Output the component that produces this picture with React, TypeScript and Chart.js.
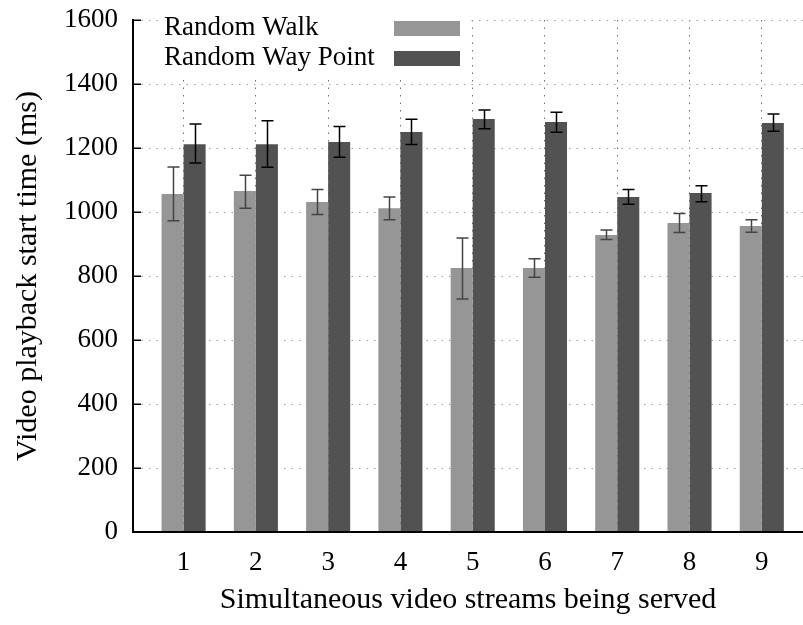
import { useEffect, useRef } from 'react';
import { Chart, registerables } from 'chart.js';

Chart.register(...registerables);

// ---- data ----
const streams = [1, 2, 3, 4, 5, 6, 7, 8, 9];
const walkMean = [1056, 1066, 1031, 1012, 825, 825, 928, 966, 956];
const walkLow = [973, 1012, 992, 976, 728, 796, 914, 936, 937];
const walkHigh = [1141, 1115, 1070, 1047, 919, 854, 944, 995, 976];
const wayMean = [1212, 1212, 1219, 1250, 1291, 1281, 1047, 1059, 1278];
const wayLow = [1153, 1140, 1171, 1211, 1260, 1249, 1024, 1032, 1252];
const wayHigh = [1275, 1285, 1267, 1290, 1319, 1312, 1070, 1082, 1306];
const yTickValues = [0, 200, 400, 600, 800, 1000, 1200, 1400, 1600];
const seriesNames = ['Random Walk', 'Random Way Point'];
const seriesColors = ['#969696', '#525252'];
const errorColors = ['#444444', '#000000'];

const FONT = '"Liberation Serif", "Times New Roman", serif';

export default function App() {
  const ref = useRef<HTMLCanvasElement>(null);

  useEffect(() => {
    if (!ref.current) return;

    const errorBars = {
      id: 'errorBars',
      afterDatasetsDraw(chart: any) {
        const ctx = chart.ctx;
        const y = chart.scales.y;
        const lows = [walkLow, wayLow];
        const highs = [walkHigh, wayHigh];
        chart.data.datasets.forEach((_: any, di: number) => {
          const meta = chart.getDatasetMeta(di);
          meta.data.forEach((el: any, i: number) => {
            const x = Math.round(el.x) + 0.5;
            const yl = y.getPixelForValue(lows[di][i]);
            const yh = y.getPixelForValue(highs[di][i]);
            ctx.save();
            ctx.strokeStyle = errorColors[di];
            ctx.lineWidth = 1.5;
            ctx.beginPath();
            ctx.moveTo(x, yl);
            ctx.lineTo(x, yh);
            ctx.moveTo(x - 6, yl);
            ctx.lineTo(x + 6, yl);
            ctx.moveTo(x - 6, yh);
            ctx.lineTo(x + 6, yh);
            ctx.stroke();
            ctx.restore();
          });
        });
        // axes redrawn on top of bars, with inward ticks on the value axis
        const ca = chart.chartArea;
        ctx.save();
        ctx.strokeStyle = '#000';
        ctx.lineWidth = 2;
        ctx.beginPath();
        ctx.moveTo(ca.left, ca.top);
        ctx.lineTo(ca.left, ca.bottom);
        ctx.lineTo(ca.right, ca.bottom);
        ctx.stroke();
        ctx.lineWidth = 1.5;
        ctx.beginPath();
        yTickValues.forEach((v) => {
          const py = Math.round(y.getPixelForValue(v)) + 0.25;
          ctx.moveTo(ca.left, py);
          ctx.lineTo(ca.left + 8, py);
        });
        ctx.stroke();
        ctx.restore();
      },
    };

    const keyBox = {
      id: 'keyBox',
      afterDraw(chart: any) {
        const ctx = chart.ctx;
        const ca = chart.chartArea;
        const left = ca.left + 27;
        const top = ca.top - 8;
        ctx.save();
        ctx.fillStyle = '#ffffff';
        ctx.fillRect(left, top, 308, 66);
        ctx.font = '27px ' + FONT;
        ctx.textBaseline = 'middle';
        ctx.textAlign = 'left';
        seriesNames.forEach((name, i) => {
          const cy = ca.top + 8 + i * 30;
          ctx.fillStyle = '#000';
          ctx.fillText(name, left + 4, cy);
          ctx.fillStyle = seriesColors[i];
          ctx.fillRect(left + 234, cy - 7, 66, 15);
        });
        ctx.restore();
      },
    };

    const chart = new Chart(ref.current, {
      type: 'bar',
      data: {
        datasets: [
          {
            label: seriesNames[0],
            data: streams.map((x, i) => ({ x, y: walkMean[i] })),
            backgroundColor: seriesColors[0],
            borderWidth: 0,
            categoryPercentage: 0.61,
            barPercentage: 1,
          },
          {
            label: seriesNames[1],
            data: streams.map((x, i) => ({ x, y: wayMean[i] })),
            backgroundColor: seriesColors[1],
            borderWidth: 0,
            categoryPercentage: 0.61,
            barPercentage: 1,
          },
        ],
      },
      options: {
        responsive: false,
        devicePixelRatio: 1,
        animation: false,
        layout: { padding: { top: 20, right: 0, bottom: 0, left: 0 } },
        plugins: {
          legend: { display: false },
          tooltip: { enabled: false },
        },
        scales: {
          x: {
            type: 'linear',
            min: 0.3,
            max: 9.57,
            offset: false,
            afterBuildTicks: (s: any) => {
              s.ticks = streams.map((v) => ({ value: v }));
            },
            afterFit: (s: any) => {
              s.height = 93;
              s.paddingLeft = 0;
              s.paddingRight = 0;
            },
            ticks: {
              color: '#000',
              font: { family: FONT, size: 27 },
              padding: 15,
              maxRotation: 0,
              autoSkip: false,
              callback: (v: any) => String(v),
            },
            grid: { color: '#707070', lineWidth: 1, drawTicks: false, offset: false },
            border: { display: true, color: '#000', width: 2, dash: [1.5, 6] },
            title: {
              display: true,
              text: 'Simultaneous video streams being served',
              color: '#000',
              font: { family: FONT, size: 30 },
              padding: { top: 0, bottom: 7 },
            },
          },
          y: {
            type: 'linear',
            min: 0,
            max: 1600,
            afterBuildTicks: (s: any) => {
              s.ticks = yTickValues.map((v) => ({ value: v }));
            },
            afterFit: (s: any) => {
              s.width = 133;
              s.paddingTop = 0;
              s.paddingBottom = 0;
            },
            ticks: {
              color: '#000',
              font: { family: FONT, size: 27 },
              padding: 15,
              callback: (v: any) => String(v),
            },
            grid: { color: '#a0a0a0', lineWidth: 1, drawTicks: false },
            border: { display: true, color: '#000', width: 2, dash: [1.5, 6] },
            title: {
              display: true,
              text: 'Video playback start time (ms)',
              color: '#000',
              font: { family: FONT, size: 30 },
              padding: { top: 10, bottom: 0 },
            },
          },
        },
      },
      plugins: [errorBars, keyBox],
    } as any);

    return () => chart.destroy();
  }, []);

  return (
    <div style={{ position: 'fixed', left: 0, top: 0, width: 803, height: 625, background: '#fff' }}>
      <canvas ref={ref} width={803} height={625} style={{ display: 'block', width: 803, height: 625 }} />
    </div>
  );
}
